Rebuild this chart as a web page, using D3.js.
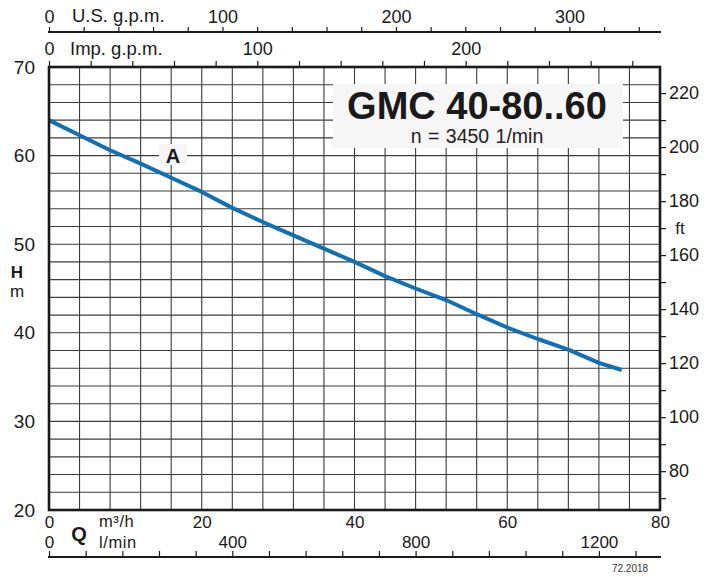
<!DOCTYPE html>
<html>
<head>
<meta charset="utf-8">
<script src="https://cdn.jsdelivr.net/npm/d3@7"></script>
<style>
  html, body { margin: 0; padding: 0; background: #fff; }
  svg { display: block; font-family: "Liberation Sans", Arial, Helvetica, sans-serif; }
</style>
</head>
<body>
<svg id="chart" width="720" height="577"></svg>
<script>
// ---- data ----
const flowM3h = [0, 4, 8, 12, 16, 20, 24, 28, 32, 36, 40, 44, 48, 52, 56, 60, 64, 68, 72, 75];
const headM   = [64, 62.3, 60.6, 59.1, 57.5, 55.9, 54.1, 52.5, 51.0, 49.5, 48.0, 46.4, 45.0, 43.7, 42.1, 40.6, 39.3, 38.1, 36.6, 35.8];
const curveName = "A";
const title = "GMC 40-80..60";
const subtitle = "n = 3450 1/min";
const code = "72.2018";

const m3hTicks = [0, 20, 40, 60, 80];
const gridQ = [4, 8, 12, 16, 20, 24, 28, 32, 36, 40, 44, 48, 52, 56, 60, 64, 68, 72, 76];
const headTicks = [20, 30, 40, 50, 60, 70];
const gridH = [22, 24, 26, 28, 30, 32, 34, 36, 38, 40, 42, 44, 46, 48, 50, 52, 54, 56, 58, 60, 62, 64, 66, 68];
const ftTicks = [70, 80, 90, 100, 110, 120, 130, 140, 150, 160, 170, 180, 190, 200, 210, 220];
const ftLabels = [80, 100, 120, 140, 160, 180, 200, 220];
const usTicks = [0, 20, 40, 60, 80, 100, 120, 140, 160, 180, 200, 220, 240, 260, 280, 300, 320, 340];
const usLabels = [0, 100, 200, 300];
const impTicks = [0, 20, 40, 60, 80, 100, 120, 140, 160, 180, 200, 220, 240, 260, 280];
const impLabels = [0, 100, 200];
const lminTicks = [0, 80, 160, 240, 320, 400, 480, 560, 640, 720, 800, 880, 960, 1040, 1120, 1200, 1280];
const lminLabels = [0, 400, 800, 1200];

// ---- layout ----
const L = 49, R = 660, T = 67, B = 510;
const svg = d3.select("#chart");

const x = d3.scaleLinear().domain([0, 80]).range([L, R]);
const y = d3.scaleLinear().domain([20, 70]).range([B, T]);
const yFt = d3.scaleLinear().domain([20 * 3.28084, 70 * 3.28084]).range([B, T]);
const xUS = d3.scaleLinear().domain([0, 80 / 0.227125]).range([L, R]);
const xImp = d3.scaleLinear().domain([0, 80 / 0.272765]).range([L, R]);
const xLmin = d3.scaleLinear().domain([0, 80 * 1000 / 60]).range([L, R]);

// grid
const grid = svg.append("g");
grid.selectAll("line.v").data(gridQ).join("line")
  .attr("x1", d => x(d)).attr("x2", d => x(d)).attr("y1", T).attr("y2", B)
  .attr("stroke", "#3c3c3c").attr("stroke-width", 1.1);
grid.selectAll("line.h").data(gridH).join("line")
  .attr("y1", d => y(d)).attr("y2", d => y(d)).attr("x1", L).attr("x2", R)
  .attr("stroke", "#3c3c3c").attr("stroke-width", 1.1);

// title box
svg.append("rect").attr("x", 333).attr("y", 84).attr("width", 290).attr("height", 64).attr("fill", "#f6f6f6");
svg.append("text").attr("x", 477).attr("y", 119).attr("text-anchor", "middle")
  .attr("font-size", 38).attr("font-weight", "bold").attr("fill", "#1a1a1a").text(title);
svg.append("text").attr("x", 477).attr("y", 143).attr("text-anchor", "middle")
  .attr("font-size", 19.5).attr("word-spacing", 1).attr("fill", "#222").text(subtitle);

// curve
svg.append("path")
  .datum(flowM3h.map((q, i) => [q, headM[i]]))
  .attr("fill", "none").attr("stroke", "#1170b5").attr("stroke-width", 4)
  .attr("stroke-linejoin", "round")
  .attr("d", d3.line().x(d => x(d[0])).y(d => y(d[1])));

// curve label
svg.append("rect").attr("x", 159).attr("y", 144).attr("width", 28).attr("height", 21).attr("fill", "#f6f6f6");
svg.append("text").attr("x", 173).attr("y", 163).attr("text-anchor", "middle")
  .attr("font-size", 20).attr("font-weight", "bold").attr("fill", "#1a1a1a").text(curveName);

// frame
svg.append("rect").attr("x", L).attr("y", T).attr("width", R - L).attr("height", B - T)
  .attr("fill", "none").attr("stroke", "#1a1a1a").attr("stroke-width", 2.6);

function styleAxis(g, size) {
  g.select(".domain").remove();
  g.selectAll(".tick line").attr("stroke", "#1a1a1a").attr("stroke-width", 1.2);
  g.selectAll(".tick text").attr("fill", "#1a1a1a").attr("font-size", size)
    .attr("font-family", '"Liberation Sans", Arial, Helvetica, sans-serif');
}

// left axis (m)
const gl = svg.append("g").attr("transform", `translate(${L},0)`)
  .call(d3.axisLeft(y).tickValues(headTicks).tickSize(0).tickPadding(14));
styleAxis(gl, 19);
svg.append("text").attr("x", 17).attr("y", 278).attr("text-anchor", "middle")
  .attr("font-size", 17).attr("font-weight", "bold").attr("fill", "#1a1a1a").text("H");
svg.append("text").attr("x", 17).attr("y", 297).attr("text-anchor", "middle")
  .attr("font-size", 17).attr("fill", "#1a1a1a").text("m");

// right axis (ft)
const gr = svg.append("g").attr("transform", `translate(${R},0)`)
  .call(d3.axisRight(yFt).tickValues(ftTicks).tickSize(6).tickPadding(3)
    .tickFormat(d => ftLabels.includes(d) ? d : ""));
styleAxis(gr, 18);
svg.append("text").attr("x", 680).attr("y", 234).attr("text-anchor", "middle")
  .attr("font-size", 17).attr("fill", "#1a1a1a").text("ft");

// top axis: US gpm
const gus = svg.append("g").attr("transform", "translate(0,32)")
  .call(d3.axisTop(xUS).tickValues(usTicks).tickSize(5).tickPadding(4)
    .tickFormat(d => usLabels.includes(d) ? d : ""));
styleAxis(gus, 18);
svg.append("line").attr("x1", L - 1).attr("x2", R + 1).attr("y1", 32).attr("y2", 32)
  .attr("stroke", "#1a1a1a").attr("stroke-width", 2.2);
svg.append("text").attr("x", 72).attr("y", 22).attr("font-size", 18.5).attr("fill", "#1a1a1a").text("U.S. g.p.m.");

// top axis: Imp gpm
const gimp = svg.append("g").attr("transform", `translate(0,${T})`)
  .call(d3.axisTop(xImp).tickValues(impTicks).tickSize(6).tickPadding(6)
    .tickFormat(d => impLabels.includes(d) ? d : ""));
styleAxis(gimp, 18);
svg.append("text").attr("x", 70).attr("y", 55).attr("font-size", 18.5).attr("fill", "#1a1a1a").text("Imp. g.p.m.");

// bottom axis: m3/h
const gb = svg.append("g").attr("transform", `translate(0,${B})`)
  .call(d3.axisBottom(x).tickValues(m3hTicks).tickSize(0).tickPadding(6));
styleAxis(gb, 17);
svg.append("text").attr("x", 99).attr("y", 527).attr("font-size", 16.5).attr("letter-spacing", 0.6)
  .attr("fill", "#1a1a1a").text("m³/h");

// bottom axis: l/min
const glm = svg.append("g").attr("transform", "translate(0,557)")
  .call(d3.axisTop(xLmin).tickValues(lminTicks).tickSize(6).tickPadding(3)
    .tickFormat(d => lminLabels.includes(d) ? d : ""));
styleAxis(glm, 17);
svg.append("line").attr("x1", L - 1).attr("x2", R + 1).attr("y1", 557).attr("y2", 557)
  .attr("stroke", "#1a1a1a").attr("stroke-width", 2.2);
svg.append("text").attr("x", 99).attr("y", 548).attr("font-size", 16.5).attr("letter-spacing", 0.6)
  .attr("fill", "#1a1a1a").text("l/min");
svg.append("text").attr("x", 79).attr("y", 541).attr("text-anchor", "middle")
  .attr("font-size", 20).attr("font-weight", "bold").attr("fill", "#1a1a1a").text("Q");

svg.append("text").attr("x", 630).attr("y", 572).attr("text-anchor", "middle")
  .attr("font-size", 10).attr("fill", "#333").text(code);
</script>
</body>
</html>
